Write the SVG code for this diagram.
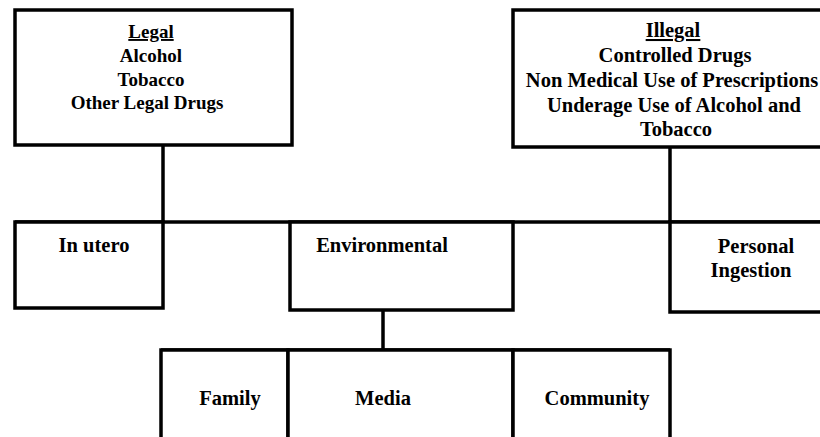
<svg xmlns="http://www.w3.org/2000/svg" width="820" height="437" viewBox="0 0 820 437">
<style>
.box{fill:#fff;stroke:#000;stroke-width:3.5}
.t{font-family:"Liberation Serif","Times New Roman",serif;font-weight:bold;font-size:20.5px;fill:#000;text-anchor:middle}
.s{font-size:19px}
.u{text-decoration:underline}
.c{stroke:#000;stroke-width:3.5;fill:none}
</style>
<rect width="820" height="437" fill="#fff"/>
<g id="connectors">
<line class="c" x1="163" y1="145" x2="163" y2="222"/>
<line class="c" x1="670" y1="147" x2="670" y2="222"/>
<line class="c" x1="15" y1="222" x2="820" y2="222"/>
<line class="c" x1="383" y1="310" x2="383" y2="350"/>
<line class="c" x1="161" y1="350" x2="670" y2="350"/>
</g>
<g id="legal">
<rect class="box" x="15" y="10" width="277" height="135"/>
<text class="t s" x="151" y="38"><tspan class="u">Legal</tspan></text>
<text class="t s" x="151" y="62">Alcohol</text>
<text class="t s" x="151" y="86">Tobacco</text>
<text class="t s" x="147" y="109">Other Legal Drugs</text>
</g>
<g id="illegal">
<rect class="box" x="513" y="10" width="330" height="137"/>
<text class="t" x="673" y="37"><tspan class="u">Illegal</tspan></text>
<text class="t" x="675" y="62">Controlled Drugs</text>
<text class="t" x="672" y="87">Non Medical Use of Prescriptions</text>
<text class="t" x="674" y="112">Underage Use of Alcohol and</text>
<text class="t" x="676" y="136">Tobacco</text>
</g>
<g id="in-utero">
<rect class="box" x="15" y="222" width="148" height="86"/>
<text class="t" x="94" y="252">In utero</text>
</g>
<g id="environmental">
<rect class="box" x="290" y="222" width="223" height="88"/>
<text class="t" x="382" y="252">Environmental</text>
</g>
<g id="personal-ingestion">
<rect class="box" x="670" y="222" width="170" height="90"/>
<text class="t" x="756" y="253">Personal</text>
<text class="t" x="751" y="277">Ingestion</text>
</g>
<g id="family">
<rect class="box" x="161" y="350" width="127" height="110"/>
<text class="t" x="230" y="405">Family</text>
</g>
<g id="media">
<rect class="box" x="288" y="350" width="225" height="110"/>
<text class="t" x="383" y="405">Media</text>
</g>
<g id="community">
<rect class="box" x="513" y="350" width="157" height="110"/>
<text class="t" x="597" y="405">Community</text>
</g>
</svg>
